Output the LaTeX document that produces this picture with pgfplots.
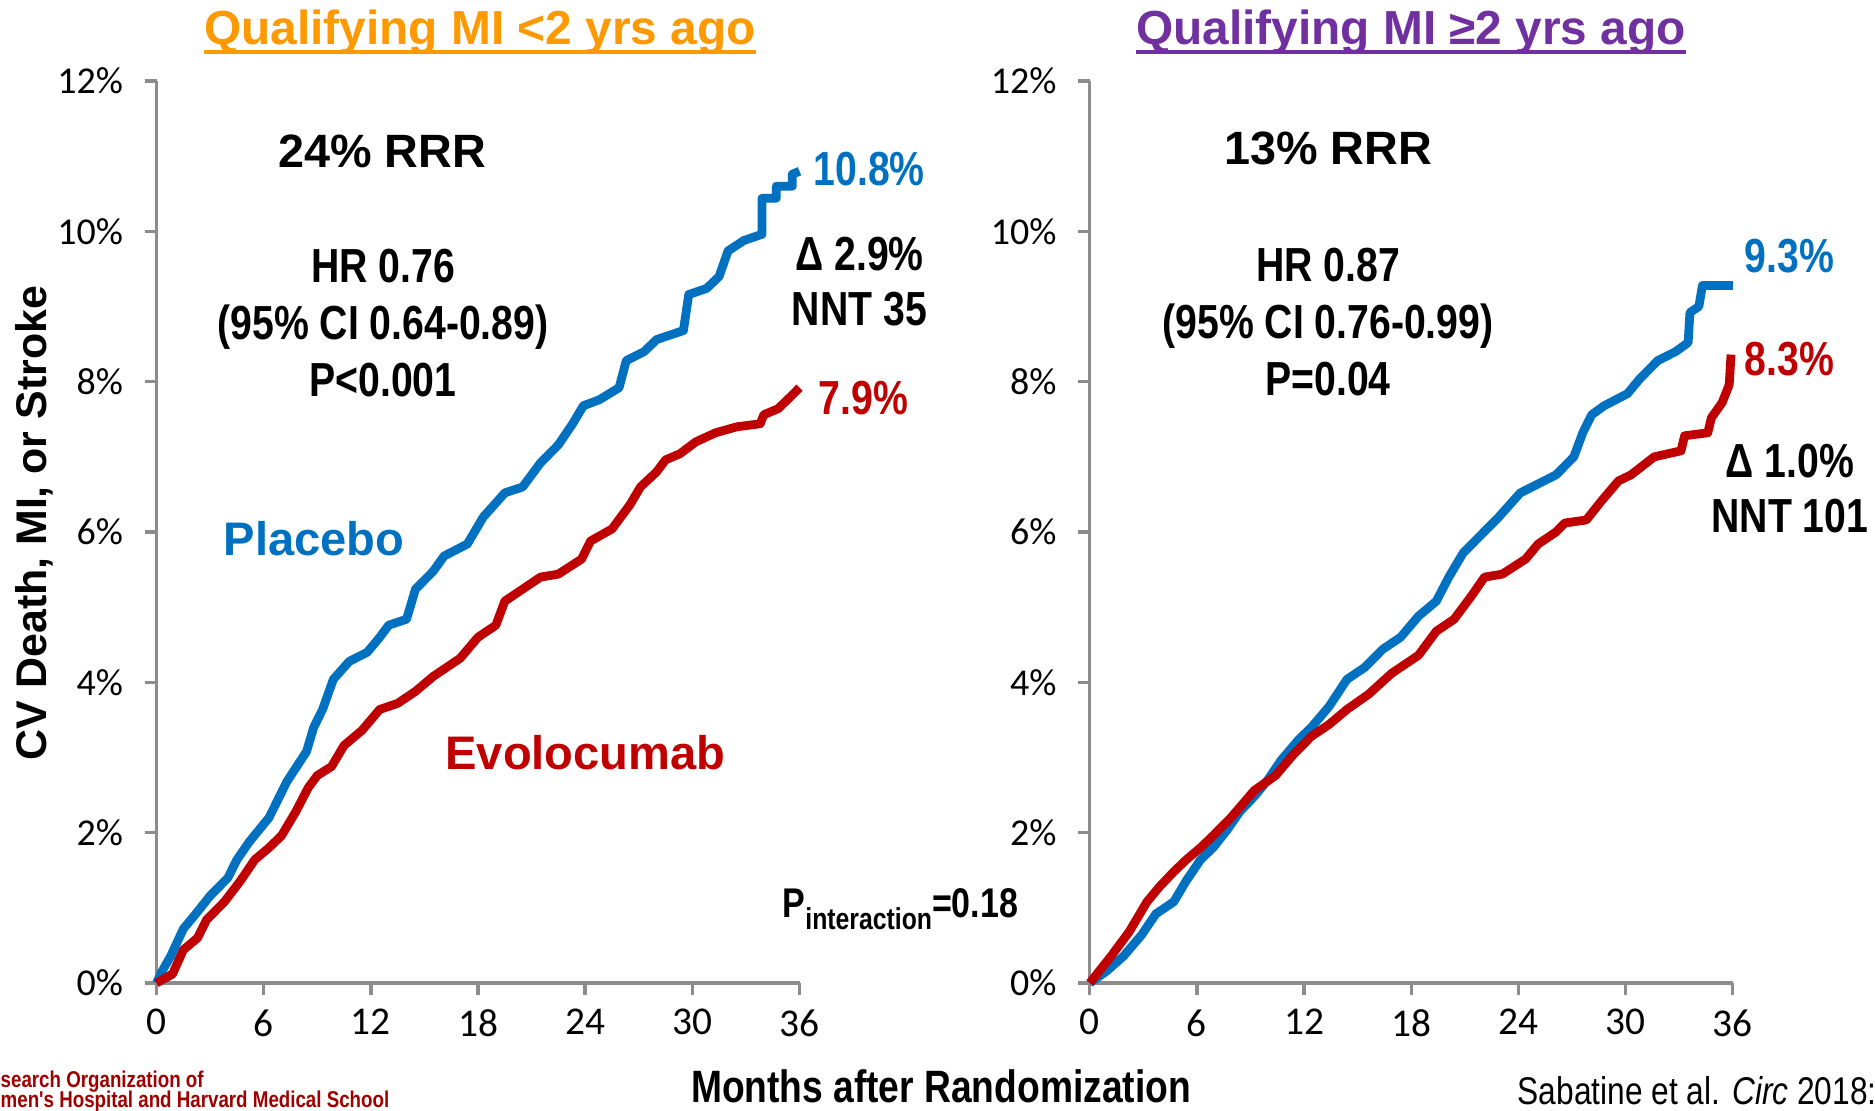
\documentclass[border=0pt]{standalone}
\usepackage{fontspec}
\setmainfont{Liberation Sans}
\newfontfamily\narrow[FakeStretch=0.82]{Liberation Sans}
\newfontfamily\carlito{Carlito}
\usepackage{pgfplots}
\pgfplotsset{compat=1.18}
\definecolor{blueC}{RGB}{0,112,192}
\definecolor{redC}{RGB}{192,0,0}
\definecolor{orangeT}{RGB}{255,153,0}
\definecolor{purpleT}{RGB}{112,48,160}
\definecolor{axisgray}{RGB}{140,140,140}
\definecolor{footred}{RGB}{160,0,0}
\pgfplotsset{
  kmaxis/.style={
    scale only axis, width=64.3mm, height=90.2mm,
    xmin=0, xmax=36, ymin=0, ymax=12,
    axis x line*=bottom, axis y line*=left,
    axis line style={-, draw=axisgray, line width=0.95pt},
    tick align=outside, major tick length=1.2mm,
    tick style={draw=axisgray, line width=0.95pt},
    xtick pos=left, ytick pos=left,
    xtick={0,6,12,18,24,30,36},
    ytick={0,2,4,6,8,10,12},
    yticklabels={0\%,2\%,4\%,6\%,8\%,10\%,12\%},
    xticklabel style={font=\carlito\fontsize{11.2}{12}\selectfont, text=black, yshift=-0.2mm},
    yticklabel style={font=\carlito\fontsize{10.8}{12}\selectfont, text=black, xshift=-0.9mm},
    /pgf/number format/assume math mode=true,
    clip=false,
  },
  km/.style={line width=2.5pt, line join=round, line cap=butt},
}
\begin{document}
\begin{tikzpicture}
\useasboundingbox (0,0) rectangle (187.5mm,111mm);
\clip (0,0) rectangle (187.5mm,111mm);

% ---------------- left panel ----------------
\begin{axis}[kmaxis, at={(15.65mm,12.7mm)}, anchor=south west]
\addplot[km, blueC] coordinates {
(0,0.0) (0.3,0.15) (0.8,0.36) (1.5,0.72) (2.2,0.92) (3.0,1.16) (4.0,1.4) (4.5,1.64) (5.2,1.88)
(6.3,2.2) (7.3,2.68) (8.4,3.08) (8.8,3.4) (9.3,3.64) (9.9,4.04) (10.8,4.28) (11.8,4.4)
(12.5,4.6) (13.0,4.76) (14.0,4.84) (14.5,5.24) (15.5,5.48) (16.1,5.68) (17.4,5.84)
(18.3,6.2) (19.5,6.52) (20.5,6.6) (21.5,6.92) (22.5,7.16) (23.3,7.44) (23.9,7.68)
(24.8,7.76) (25.9,7.92) (26.3,8.28) (27.3,8.4) (28.0,8.56) (29.5,8.68) (29.8,9.16)
(30.8,9.24) (31.5,9.4) (32.0,9.74) (32.9,9.88) (33.9,9.96) (33.9,10.44) (34.7,10.44)
(34.7,10.6) (35.6,10.6) (35.6,10.76) (36.0,10.8)
};
\addplot[km, redC] coordinates {
(0,0) (0.9,0.12) (1.5,0.44) (2.3,0.6) (2.8,0.84) (3.8,1.08) (4.7,1.36) (5.5,1.64)
(6.3,1.8) (7.0,1.96) (7.8,2.28) (8.5,2.6) (9.0,2.76) (9.8,2.88) (10.5,3.16) (11.5,3.36)
(12.5,3.64) (13.5,3.72) (14.5,3.88) (15.5,4.08) (17.0,4.32) (18.0,4.6) (19.0,4.76)
(19.5,5.08) (20.5,5.24) (21.5,5.4) (22.5,5.44) (23.8,5.64) (24.3,5.88) (25.5,6.04)
(26.0,6.2) (26.5,6.36) (27.1,6.6) (28.0,6.8) (28.5,6.96) (29.3,7.04) (30.2,7.2)
(31.3,7.32) (32.5,7.4) (33.8,7.44) (34.0,7.56) (34.8,7.64) (35.5,7.8) (36.0,7.92)
};
\end{axis}

% ---------------- right panel ----------------
\begin{axis}[kmaxis, at={(108.98mm,12.7mm)}, anchor=south west]
\addplot[km, blueC] coordinates {
(0,0) (0.95,0.16) (1.9,0.36) (2.9,0.64) (3.7,0.92) (4.7,1.08) (5.4,1.36) (6.2,1.64)
(6.9,1.8) (7.7,2.04) (8.4,2.28) (9.2,2.48) (9.9,2.68) (10.7,2.96) (11.7,3.24) (12.4,3.4)
(13.4,3.68) (14.4,4.04) (15.4,4.2) (16.4,4.44) (17.4,4.6) (18.4,4.88) (19.4,5.08)
(20.1,5.4) (20.9,5.72) (21.9,5.96) (22.9,6.2) (24.1,6.52) (25.1,6.64) (26.1,6.76)
(27.1,7.0) (27.6,7.32) (28.1,7.56) (28.8,7.68) (30.1,7.84) (30.8,8.04) (31.8,8.28)
(32.8,8.4) (33.5,8.52) (33.6,8.92) (34.1,9.0) (34.3,9.28) (36.0,9.28)
};
\addplot[km, redC] coordinates {
(0,0) (1.2,0.36) (2.2,0.68) (3.2,1.08) (3.9,1.28) (4.7,1.48) (5.4,1.64) (6.2,1.8)
(6.9,1.96) (7.9,2.2) (9.2,2.56) (10.4,2.76) (11.4,3.04) (12.4,3.28) (13.4,3.44)
(14.4,3.64) (15.6,3.84) (16.9,4.12) (18.4,4.36) (19.4,4.68) (20.4,4.84) (21.4,5.16)
(22.1,5.4) (23.1,5.44) (24.4,5.64) (25.1,5.84) (26.1,6.0) (26.6,6.12) (27.8,6.16)
(28.6,6.4) (29.6,6.68) (30.3,6.76) (31.6,7.0) (33.1,7.08) (33.3,7.28) (34.6,7.32)
(34.8,7.52) (35.4,7.72) (35.8,7.96) (35.9,8.36)
};
\end{axis}

% ---------------- titles ----------------
\node[inner sep=0, anchor=base, text=orangeT, font=\bfseries\fontsize{13.6}{16}\selectfont] (t1) at (48.0mm,106.6mm) {Qualifying MI <2 yrs ago};
\draw[orangeT, line width=0.4mm] ([yshift=-0.75mm]t1.base west) -- ([yshift=-0.75mm]t1.base east);
\node[inner sep=0, anchor=base, text=purpleT, font=\bfseries\fontsize{13.6}{16}\selectfont] (t2) at (141.1mm,106.6mm) {Qualifying MI ≥2 yrs ago};
\draw[purpleT, line width=0.4mm] ([yshift=-0.75mm]t2.base west) -- ([yshift=-0.75mm]t2.base east);

% ---------------- y label ----------------
\node[rotate=90, inner sep=0, font=\bfseries\fontsize{12.2}{14}\selectfont] at (3.45mm,58.7mm) {CV Death, MI, or Stroke};

% ---------------- left annotations ----------------
\node[inner sep=0, font=\bfseries\fontsize{13.3}{16}\selectfont] at (38.2mm,95.9mm) {24\% RRR};
\node[inner sep=0, align=center, font=\narrow\bfseries\fontsize{13.6}{16.3}\selectfont] at (38.3mm,78.7mm) {HR 0.76\\(95\% CI 0.64-0.89)\\P<0.001};
\node[inner sep=0, anchor=west, text=blueC, font=\narrow\bfseries\fontsize{13.6}{16}\selectfont] at (81.3mm,94.1mm) {10.8\%};
\node[inner sep=0, align=center, font=\narrow\bfseries\fontsize{13.6}{15.6}\selectfont] at (85.95mm,82.85mm) {Δ 2.9\%\\NNT 35};
\node[inner sep=0, anchor=west, text=redC, font=\narrow\bfseries\fontsize{13.6}{16}\selectfont] at (81.8mm,71.2mm) {7.9\%};
\node[inner sep=0, text=blueC, font=\bfseries\fontsize{13.4}{16}\selectfont] at (31.4mm,57.1mm) {Placebo};
\node[inner sep=0, text=redC, font=\bfseries\fontsize{13.4}{16}\selectfont] at (58.55mm,35.7mm) {Evolocumab};
\node[inner sep=0, anchor=base west, font=\narrow\bfseries\fontsize{11.8}{14}\selectfont] at (78.2mm,19.3mm) {P\raisebox{-0.3em}{\fontsize{8.6}{10}\selectfont interaction}=0.18};

% ---------------- right annotations ----------------
\node[inner sep=0, font=\bfseries\fontsize{13.3}{16}\selectfont] at (132.8mm,96.2mm) {13\% RRR};
\node[inner sep=0, align=center, font=\narrow\bfseries\fontsize{13.6}{16.3}\selectfont] at (132.8mm,78.8mm) {HR 0.87\\(95\% CI 0.76-0.99)\\P=0.04};
\node[inner sep=0, anchor=west, text=blueC, font=\narrow\bfseries\fontsize{13.6}{16}\selectfont] at (174.4mm,85.4mm) {9.3\%};
\node[inner sep=0, anchor=west, text=redC, font=\narrow\bfseries\fontsize{13.6}{16}\selectfont] at (174.4mm,75.1mm) {8.3\%};
\node[inner sep=0, align=center, font=\narrow\bfseries\fontsize{13.6}{15.6}\selectfont] at (179.0mm,62.15mm) {Δ 1.0\%\\NNT 101};

% ---------------- bottom ----------------
\node[inner sep=0, anchor=base, font=\narrow\bfseries\fontsize{12.9}{14}\selectfont] at (94.1mm,0.8mm) {Months after Randomization};
\node[inner sep=0, anchor=base west, font=\narrow\fontsize{11}{13}\selectfont] at (151.7mm,0.6mm) {Sabatine et al. {\itshape Circ} 2018:};
\node[inner sep=0, anchor=west, text=footred, font=\narrow\bfseries\fontsize{6.5}{8}\selectfont] at (0mm,2.8mm) {search Organization of};
\node[inner sep=0, anchor=west, text=footred, font=\narrow\bfseries\fontsize{6.5}{8}\selectfont] at (0mm,0.8mm) {men's Hospital and Harvard Medical School};
\end{tikzpicture}
\end{document}
